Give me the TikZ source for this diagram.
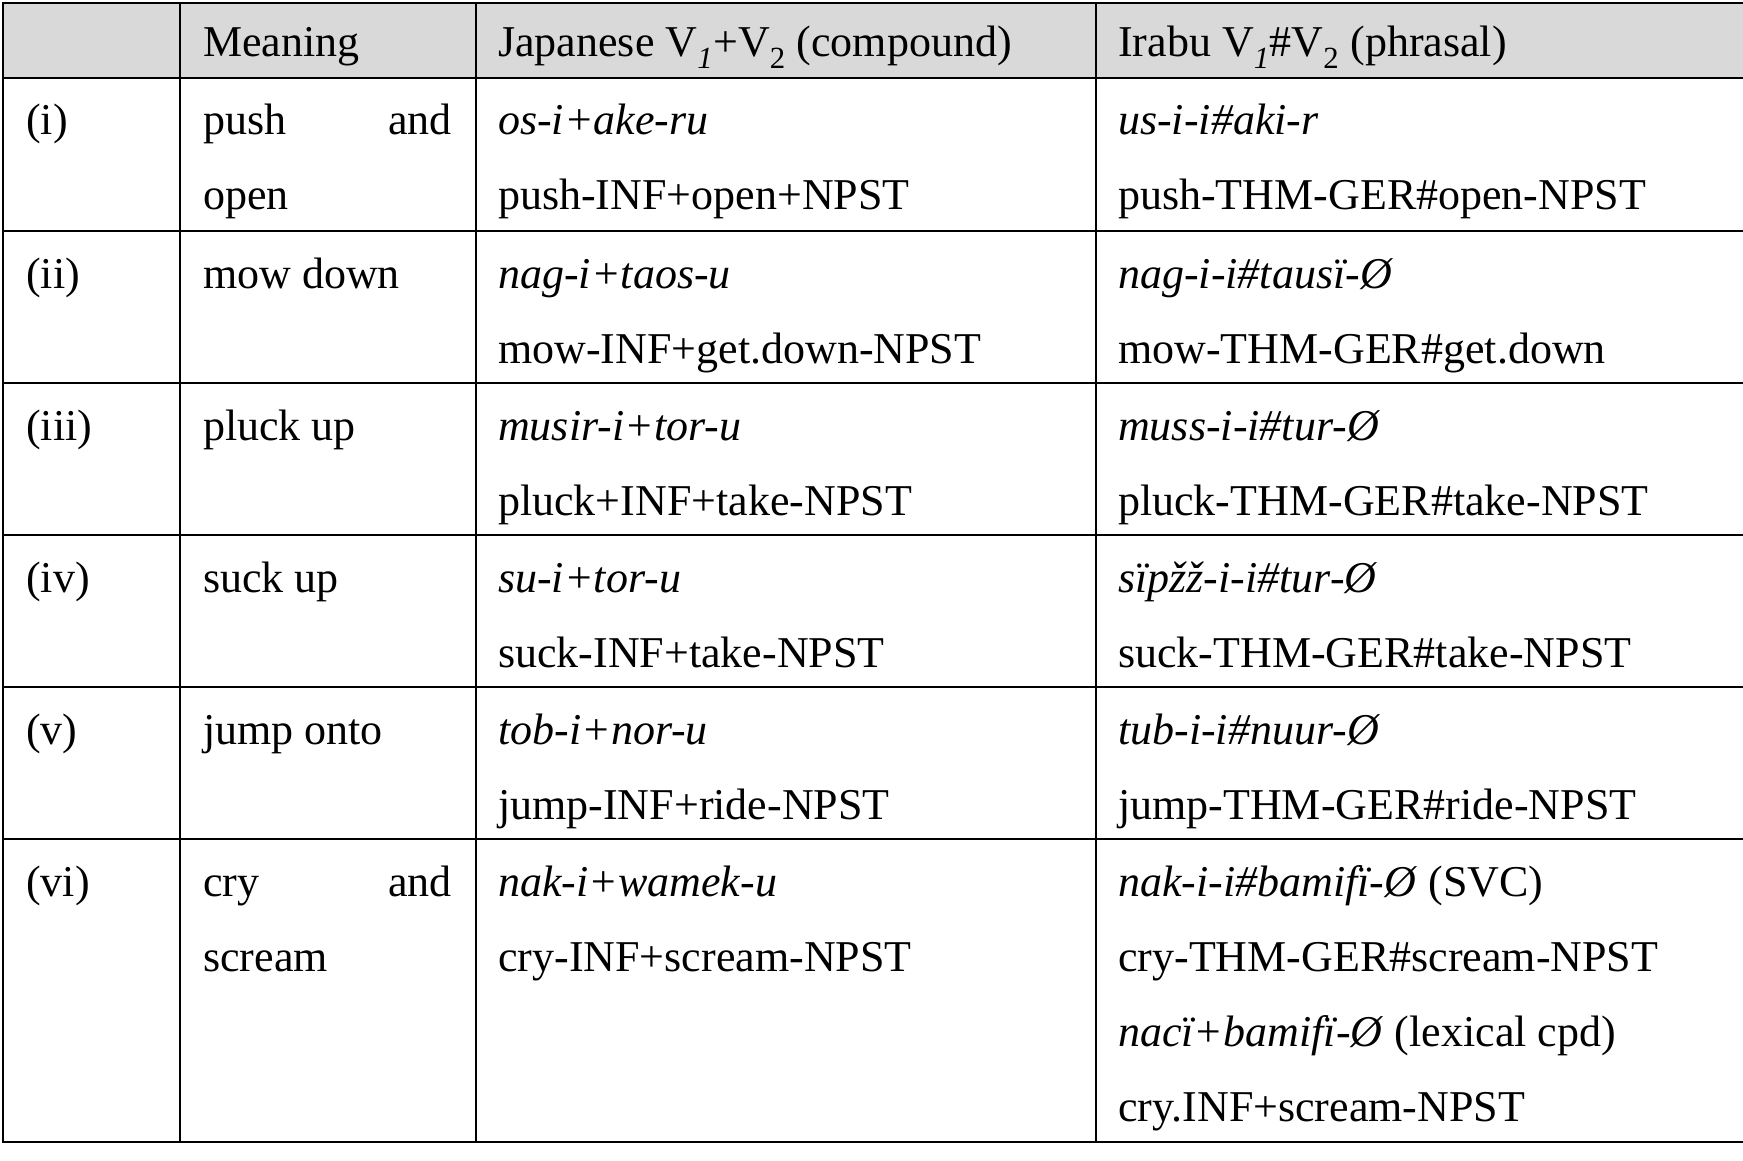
\documentclass[tikz,border=0pt]{standalone}
\usepackage{fontspec}
\setmainfont{Liberation Serif}
\begin{document}
\begin{tikzpicture}[x=1pt,y=-1pt,
  txt/.style={anchor=base west,inner sep=0pt,font=\fontsize{44}{50}\selectfont},
  grid/.style={line width=2.2pt,black}]
\useasboundingbox (0,0) rectangle (1743,1161);
\fill[white] (0,0) rectangle (1743,1161);
\fill[gray!30] (3,3) rectangle (1750,78);
\foreach \y in {3,78,231,383,535,687,839,1142} \draw[grid] (2,\y) -- (1750,\y);
\foreach \x in {3,180,476,1096} \draw[grid] (\x,2) -- (\x,1143);
% header
\node[txt] (h1) at (203,57) {Meaning};
\node[txt] (h2) at (498,57) {Japanese V\textsubscript{\itshape 1}+V\textsubscript{2} (compound)};
\node[txt] (h3) at (1118,57) {Irabu V\textsubscript{\itshape 1}\#V\textsubscript{2} (phrasal)};
% rows: line1 baseline top+57, line2 top+132
\node[txt] (n1) at (26,135) {(i)};
\node[txt] (m1a) at (203,135) {push};
\node[txt,anchor=base east] (m1b) at (452,135) {and};
\node[txt] (m1c) at (203,210) {open};
\node[txt] (j1a) at (498,135) {\itshape os-i+ake-ru};
\node[txt] (j1b) at (498,210) {push-INF+open+NPST};
\node[txt] (i1a) at (1118,135) {\itshape us-i-i\#aki-r};
\node[txt] (i1b) at (1118,210) {push-THM-GER\#open-NPST};

\node[txt] (n2) at (26,288) {(ii)};
\node[txt] (m2) at (203,288) {mow down};
\node[txt] (j2a) at (498,288) {\itshape nag-i+taos-u};
\node[txt] (j2b) at (498,363) {mow-INF+get.down-NPST};
\node[txt] (i2a) at (1118,288) {\itshape nag-i-i\#tausï-Ø};
\node[txt] (i2b) at (1118,363) {mow-THM-GER\#get.down};

\node[txt] (n3) at (26,440) {(iii)};
\node[txt] (m3) at (203,440) {pluck up};
\node[txt] (j3a) at (498,440) {\itshape musir-i+tor-u};
\node[txt] (j3b) at (498,515) {pluck+INF+take-NPST};
\node[txt] (i3a) at (1118,440) {\itshape muss-i-i\#tur-Ø};
\node[txt] (i3b) at (1118,515) {pluck-THM-GER\#take-NPST};

\node[txt] (n4) at (26,592) {(iv)};
\node[txt] (m4) at (203,592) {suck up};
\node[txt] (j4a) at (498,592) {\itshape su-i+tor-u};
\node[txt] (j4b) at (498,667) {suck-INF+take-NPST};
\node[txt] (i4a) at (1118,592) {\itshape sïpžž-i-i\#tur-Ø};
\node[txt] (i4b) at (1118,667) {suck-THM-GER\#take-NPST};

\node[txt] (n5) at (26,744) {(v)};
\node[txt] (m5) at (203,744) {jump onto};
\node[txt] (j5a) at (498,744) {\itshape tob-i+nor-u};
\node[txt] (j5b) at (498,819) {jump-INF+ride-NPST};
\node[txt] (i5a) at (1118,744) {\itshape tub-i-i\#nuur-Ø};
\node[txt] (i5b) at (1118,819) {jump-THM-GER\#ride-NPST};

\node[txt] (n6) at (26,896) {(vi)};
\node[txt] (m6a) at (203,896) {cry};
\node[txt,anchor=base east] (m6b) at (452,896) {and};
\node[txt] (m6c) at (203,971) {scream};
\node[txt] (j6a) at (498,896) {\itshape nak-i+wamek-u};
\node[txt] (j6b) at (498,971) {cry-INF+scream-NPST};
\node[txt] (i6a) at (1118,896) {\itshape nak-i-i\#bamifï-Ø\/\upshape\ (SVC)};
\node[txt] (i6b) at (1118,971) {cry-THM-GER\#scream-NPST};
\node[txt] (i6c) at (1118,1046) {\itshape nacï+bamifï-Ø\/\upshape\ (lexical cpd)};
\node[txt] (i6d) at (1118,1121) {cry.INF+scream-NPST};
\end{tikzpicture}
\end{document}
